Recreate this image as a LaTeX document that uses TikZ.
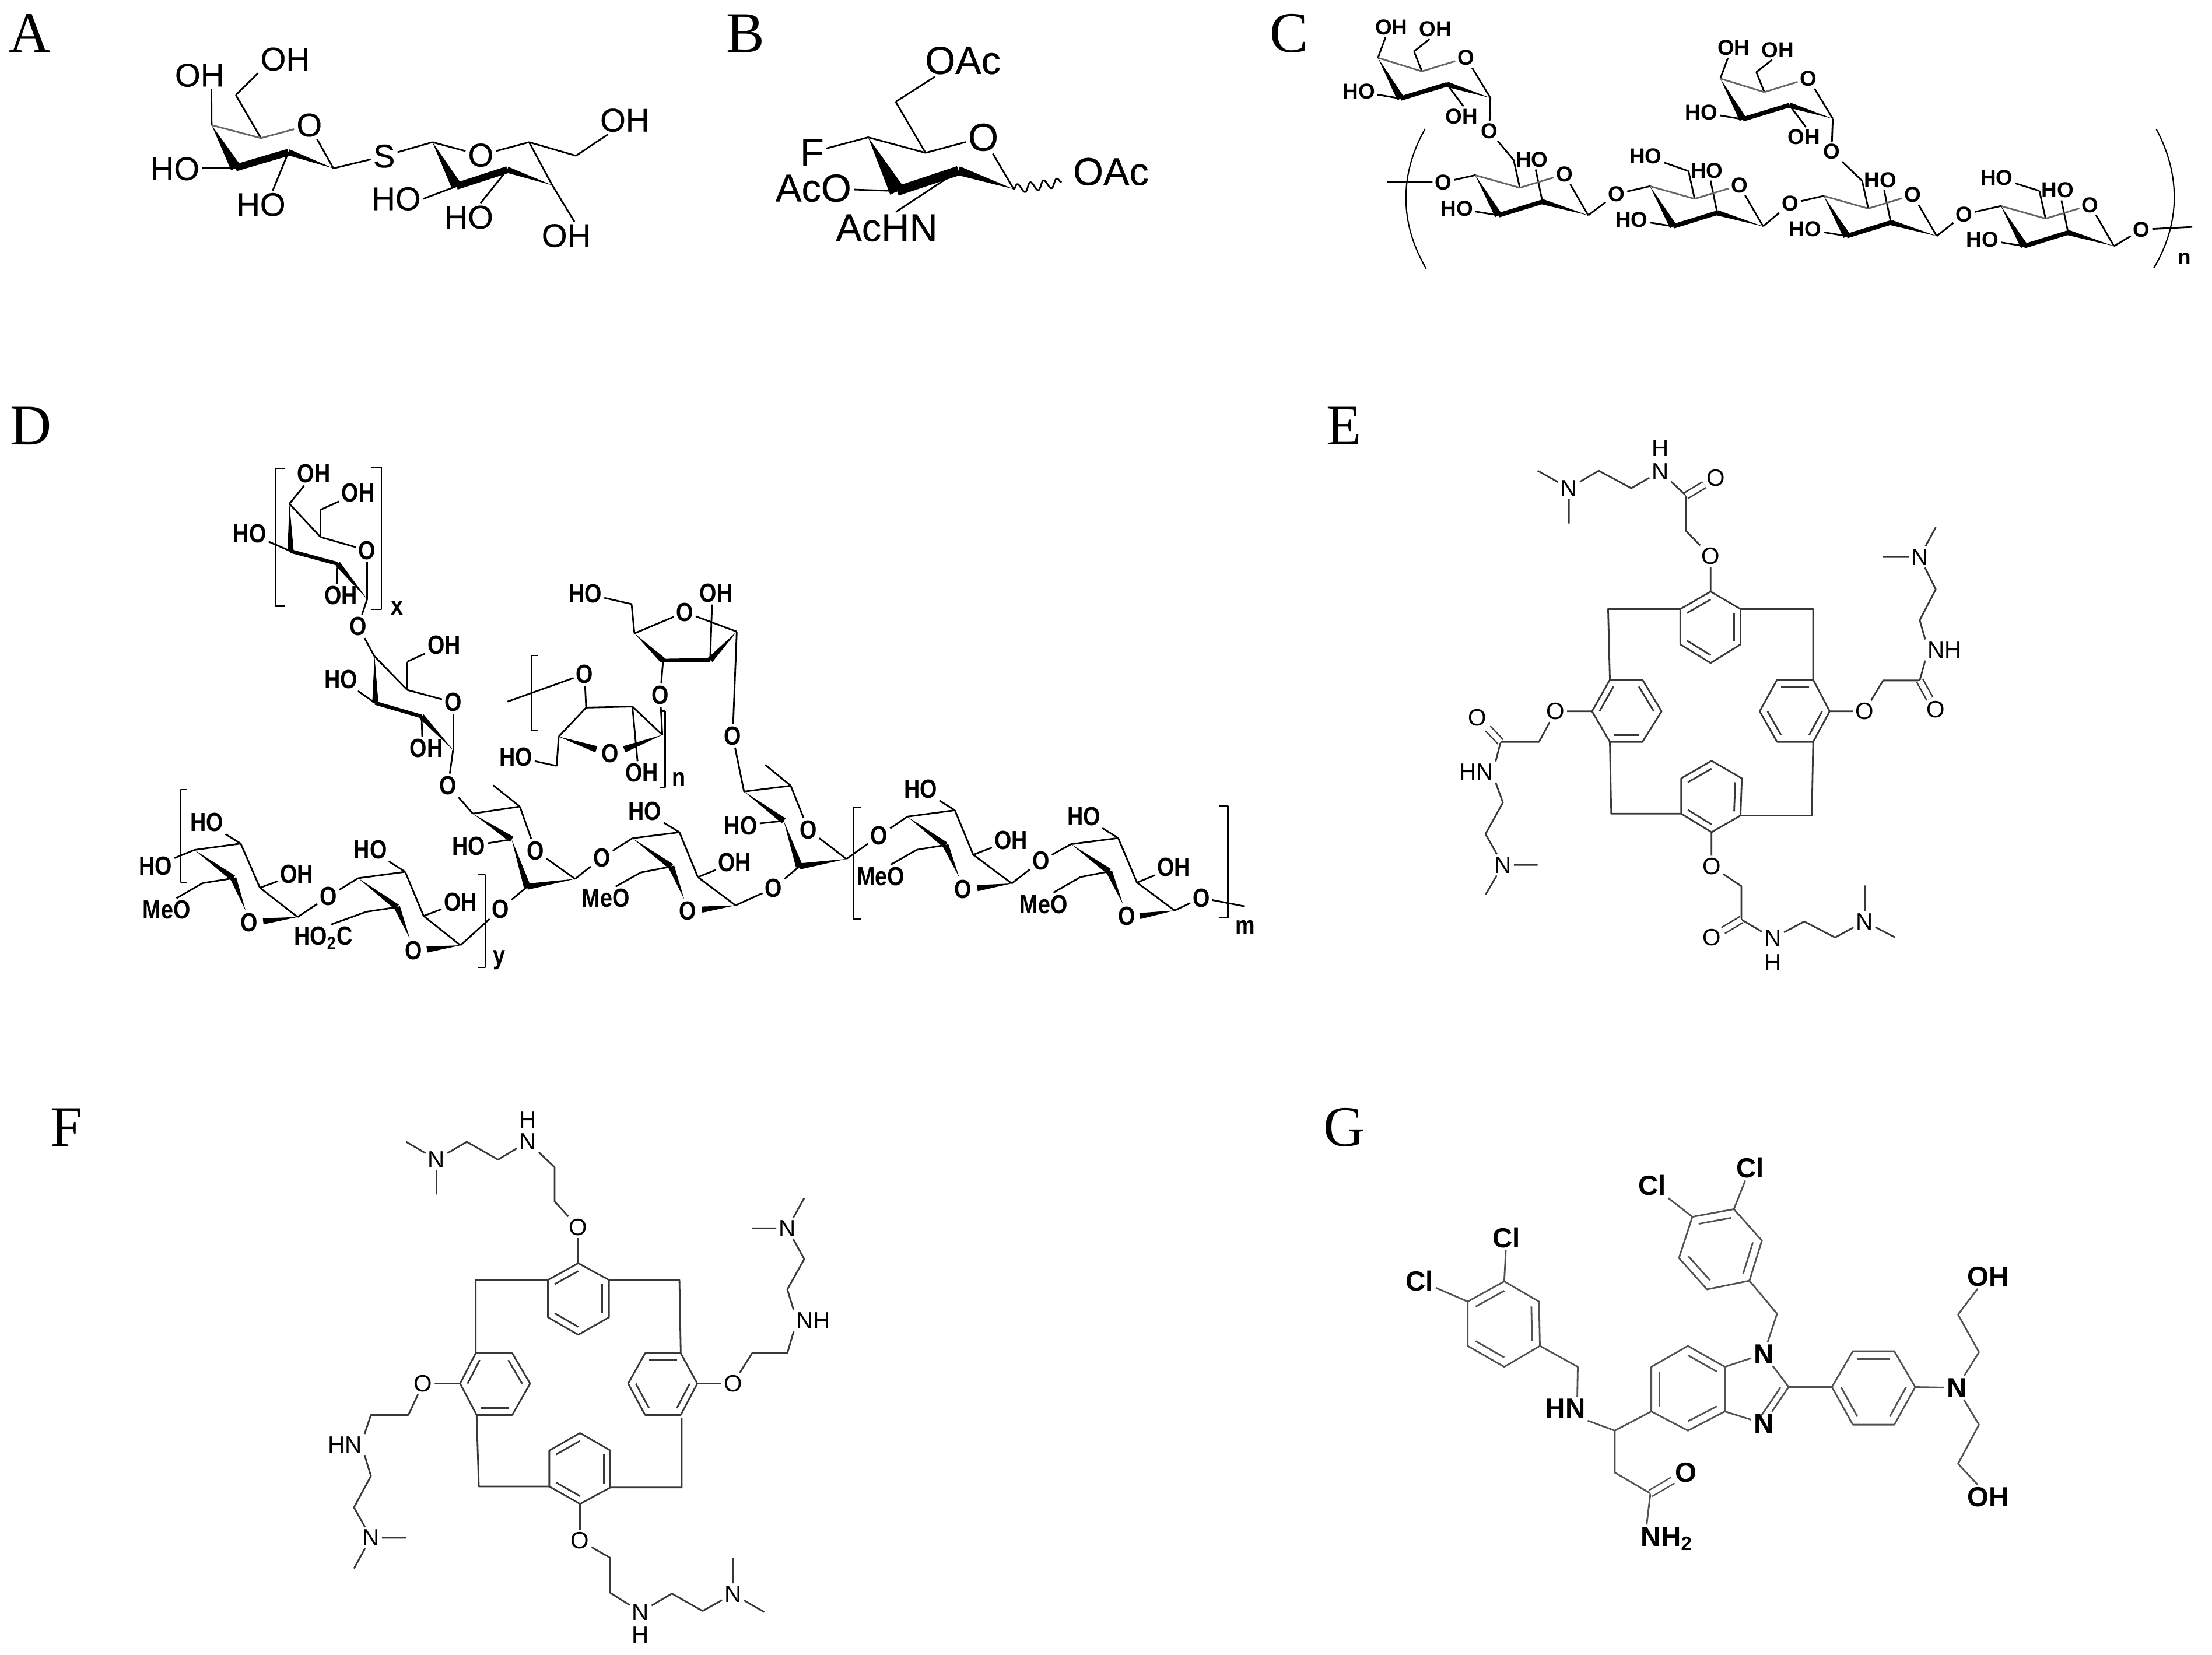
\documentclass[tikz,border=0pt]{standalone}
\usepackage{fontspec}
\setmainfont{Liberation Sans}
\newfontfamily\panelfont{Liberation Serif}
\newfontfamily\chemA[FakeBold=.3]{Liberation Sans}
\newfontfamily\chemD[FakeStretch=.84]{Liberation Sans}
\usetikzlibrary{calc,decorations.pathmorphing}
\colorlet{bondcol}{black}
\tikzset{
  bond/.style={line width=.8pt,draw=bondcol,line join=round},
  backbond/.style={bond,draw=black!60},
  dblbond/.style={bond,double,double distance=2.6pt,line width=.7pt},
  atom/.style={inner sep=1pt},
  panel/.style={font=\panelfont\fontsize{28}{28}\selectfont,inner sep=0pt},
  fnt/.style 2 args={every node/.append style={font=#1\fontsize{#2}{#2}\selectfont}}
}
\newcommand\carbons[1]{\foreach \n/\x/\y in {#1} \coordinate (\n) at (\x,\y);}
\newcommand\atoms[1]{\foreach \n/\x/\y/\t in {#1} \node[atom] (\n) at (\x,\y) {\t};}
\newcommand\bonds[2][]{\foreach \p/\q in {#2} \draw[bond,#1] (\p) -- (\q);}
\newcommand\wedges[1]{\foreach \p/\q/\w in {#1} \fill (\p) -- ($(\q)!\w!90:(\p)$) -- ($(\q)!\w!-90:(\p)$) -- cycle;}
\newcommand\hexring[1]{\coordinate (#1c) at ($(#11)!.5!(#14)$);\draw[bond] (#11)--(#12)--(#13)--(#14)--(#15)--(#16)--cycle;}
\newcommand\innerbonds[2]{\foreach \i/\j in {#2} \draw[bond] ($(#1c)!.78!(#1\i)$) -- ($(#1c)!.78!(#1\j)$);}
\begin{document}
\begin{tikzpicture}
\useasboundingbox (0,0) rectangle (37.93,-28.38);
\node[panel] (pA) at (.51,-.57) {A};\node[panel] (pB) at (12.78,-.57) {B};\node[panel] (pC) at (22.1,-.57) {C};
\node[panel] (pD) at (.53,-7.3) {D};\node[panel] (pE) at (23.05,-7.3) {E};\node[panel] (pF) at (1.14,-19.33) {F};\node[panel] (pG) at (23.05,-19.33) {G};
% A
\begin{scope}[x=.00829cm,y=-.00333cm,fnt={\chemA}{16}]
\carbons{Aa/438/645,Ab/488/490,Ac/540/712,Ad/690/868,Ae/597/785,Af/488/865,Ag/895/733,Ah/1095/733,Ai/1192/803,Aj/1143/955,Ak/1050/875,Al/945/960}
\atoms{Ao1/413/388/OH,Ao2/590/305/OH,Ao3/640/645/O,Ao4/362/870/HO,Ao5/540/1055/HO,As/795/805/S,Ao6/995/800/O,Ao7/1293/620/OH,Ao8/820/1025/HO,Ao9/970/1120/HO,Ao0/1172/1215/OH}
\bonds{Aa/Ao1.-50,Ab/Ao2.south west,Ab/Ac,Ao3/Ad,Ad/As,As/Ag,Ag/Ao6,Ao6/Ah,Ah/Ai,Ai/Ao7.-140,Ah/Aj,Aj/Ao0.60,Ae/Ao5.50,Af/Ao4,Al/Ao8.east,Ak/Ao9.50}
\bonds[backbond]{Aa/Ac,Ac/Ao3}
\wedges{Aa/Af/2.6pt,Ad/Ae/1.5pt,Aj/Ak/1.5pt,Ag/Al/2.6pt}
\bonds[line width=3.4pt]{Af/Ae,Al/Ak}
\end{scope}
% B
\begin{scope}[shift={(12cm,0cm)},x=.00512cm,y=-.00333cm,fnt={\chemA}{19}]
\carbons{Ba/563/708,Bb/755/788,Bc/1050/975,Bd/865/880,Be/660/985,Bf/655/525,Bw/1210/940}
\atoms{Bo1/948/708/O,Bo2/880/312/OAc,Bo3/1375/885/OAc,Bk/375/785/F,Bo4/380/970/AcO,Bn/625/1175/AcHN}
\bonds{Ba/Bk,Ba/Bb,Bb/Bo1,Bo1/Bc,Bb/Bf,Bf/Bo2.-150,Be/Bo4,Bd/Bn.60}
\wedges{Ba/Be/3.8pt,Bc/Bd/2.2pt}
\bonds[line width=4.6pt]{Be/Bd}
\draw[bond,decorate,decoration={snake,amplitude=2.2pt,segment length=6.5pt}] (Bc) -- (Bw);
\end{scope}
% C
\begin{scope}[shift={(21.5cm,0cm)},x=.01048cm,y=-.00333cm,fnt={\bfseries}{10.5}]
\foreach \u/\dx/\dy in {1/0/0,2/560/107}{
\begin{scope}[shift={(\dx,\dy)}]
\carbons{Cg\u a/203/298,Cg\u b/262/265,Cg\u c/275/368,Cg\u d/387/505,Cg\u e/316/435,Cg\u f/240/508}
\atoms{Cg\u o/347/298/O,Cg\u p/225/140/OH,Cg\u q/297/150/OH,Cg\u r/172/472/HO,Cg\u s/340/600/OH,Cg\u h/385/675/O}
\end{scope}
\bonds{Cg\u a/Cg\u p.-120,Cg\u b/Cg\u q.-120,Cg\u c/Cg\u b,Cg\u o/Cg\u d,Cg\u f/Cg\u r,Cg\u e/Cg\u s.80,Cg\u d/Cg\u h}
\bonds[backbond]{Cg\u a/Cg\u c,Cg\u c/Cg\u o}
\wedges{Cg\u a/Cg\u f/1.8pt,Cg\u d/Cg\u e/1.3pt}
\bonds[line width=2.2pt]{Cg\u f/Cg\u e}
}
\atoms{Ck0/310/940/O,Ck1/593/1000/O,Ck2/877/1050/O,Ck3/1162/1105/O,Ck4/1452/1183/O,Cr2/641/805/HO,Cr4/1215/915/HO,Cn/1522/1335/n}
\carbons{Cl/218/937,Cm/1535/1170}
\foreach \u/\dx/\dy in {1/0/0,2/286/57,3/570/107,4/860/159}{
\begin{scope}[shift={(\dx,\dy)}]
\carbons{Cu\u a/362/903,Cu\u b/435/968,Cu\u c/547/1110,Cu\u d/472/1040,Cu\u e/400/1110,Cu\u f/425/825}
\atoms{Cu\u o/508/898/O,Cu\u p/455/822/HO,Cu\u q/332/1075/HO}
\end{scope}
\bonds{Cu\u b/Cu\u f,Cu\u o/Cu\u c,Cu\u d/Cu\u p.-70,Cu\u e/Cu\u q}
\bonds[backbond]{Cu\u a/Cu\u b,Cu\u b/Cu\u o}
\wedges{Cu\u a/Cu\u e/1.8pt,Cu\u c/Cu\u d/1.3pt}
\bonds[line width=2.2pt]{Cu\u e/Cu\u d}
}
\bonds{Cl/Ck0,Ck0/Cu1a,Cu1c/Ck1,Ck1/Cu2a,Cu2c/Ck2,Ck2/Cu3a,Cu3c/Ck3,Ck3/Cu4a,Cu4c/Ck4,Ck4/Cm,Cg1h/Cu1f,Cg2h/Cu3f,Cu2f/Cr2,Cu4f/Cr4}
\draw[line width=.6pt] (280,665) .. controls (238,900) and (238,1150) .. (282,1385);
\draw[line width=.6pt] (1476,665) .. controls (1516,900) and (1516,1150) .. (1472,1382);
\end{scope}
% D, left part
\begin{scope}[shift={(2cm,-7.5cm)},x=.007015cm,y=-.00606cm,fnt={\chemD\bfseries}{12.8}]
\carbons{Dpa/422/188,Dpb/498/282,Dpc/612/458,Dpd/540/358,Dpe/425/322,Dpf/498/205,Dqa/630/620,Dqb/710/715,Dqc/822/885,Dqd/745/790,Dqe/632/752,Dqf/710/635}
\atoms{Dp1/482/103/OH,Dp2/590/157/OH,Dp3/325/272/HO,Dp4/612/320/O,Dp5/548/448/OH,Dp6/590/535/O,Dq2/800/587/OH,Dq3/548/685/HO,Dq4/822/750/O,Dq5/757/880/OH,Dq6/810/985/O,Dx/685/483/x}
\bonds{Dpa/Dp1,Dpa/Dpb,Dpb/Dpf,Dpf/Dp2,Dpb/Dp4,Dp4/Dpc,Dpe/Dp3,Dpd/Dp5.110,Dpc/Dp6,Dp6/Dqa,Dqa/Dqb,Dqb/Dqf,Dqf/Dq2,Dqb/Dq4,Dq4/Dqc,Dqe/Dq3,Dqd/Dq5.110,Dqc/Dq6}
\wedges{Dpa/Dpe/1.5pt,Dpc/Dpd/1.4pt,Dqa/Dqe/1.5pt,Dqc/Dqd/1.4pt}
\bonds[line width=1.8pt]{Dpe/Dpd,Dqe/Dqd}
\draw[bond,line width=.6pt] (412,88)--(387,88)--(387,478)--(412,478) (622,85)--(647,85)--(647,487)--(622,487);
% sugars of the lower chain
\carbons{Dwa/190/1168,Dwb/303/1150,Dwc/350/1275,Dwd/442/1358,Dwe/285/1248,Dwf/210/1262,Dwz/358/1370,Dxa/590/1248,Dxb/705/1230,Dxc/750/1355,Dxd/840/1438,Dxe/685/1330,Dxf/610/1343,Dxz/758/1450,Dra/870/1065,Drb/985/1045,Drm/920/985,Drc/1120/1250,Drd/1003/1272,Dre/965/1138,Dsa/1260/1135,Dsb/1375/1118,Dsc/1420/1245,Dsd/1512/1325,Dse/1355/1215,Dsf/1280/1232,Dsz/1430/1337}
\atoms{Dw1/220/1090/HO,Dw2/95/1213/HO,Dw3/440/1237/OH,Dw4/323/1373/O,Dw5/122/1338/MeO,Dw6/517/1300/O,Dx1/620/1167/HO,Dx2/840/1315/OH,Dx3/725/1452/O,Dx4/505/1418/{HO\textsubscript{2}C},Dx5/938/1335/O,Dr1/860/1158/HO,Dr2/1023/1170/O,Dr3/1185/1190/O,Ds1/1290/1058/HO,Ds2/1510/1203/OH,Ds3/1395/1340/O,Ds4/1195/1305/MeO,Dy/935/1480/y}
\bonds{Dwa/Dwb,Dwb/Dw1,Dwa/Dw2,Dwb/Dwc,Dwc/Dw3,Dwc/Dwd,Dwd/Dw6,Dwe/Dwf,Dwf/Dw5.50,Dw6/Dxa,Dxa/Dxb,Dxb/Dx1,Dxb/Dxc,Dxc/Dx2,Dxc/Dxd,Dxd/Dx5,Dxe/Dxf,Dxf/Dx4.60,Dx5/Drd,Dq6/Dra,Dra/Drb,Drb/Drm,Drb/Dr2,Dr2/Drc,Dre/Dr1,Drc/Dr3,Dr3/Dsa,Dsa/Dsb,Dsb/Ds1,Dsb/Dsc,Dsc/Ds2,Dsc/Dsd,Dse/Dsf,Dsf/Ds4.50}
\wedges{Dwa/Dwe/1.5pt,Dw4/Dwe/1.5pt,Dwd/Dwz/1.5pt,Dxa/Dxe/1.5pt,Dx3/Dxe/1.5pt,Dxd/Dxz/1.5pt,Dra/Dre/1.5pt,Dre/Drd/1.7pt,Drc/Drd/1.5pt,Dsa/Dse/1.5pt,Ds3/Dse/1.5pt,Dsd/Dsz/1.5pt}
\draw[bond,line width=.6pt] (172,997)--(157,997)--(157,1260)--(172,1260) (882,1238)--(900,1238)--(900,1500)--(882,1500);
% the two furanoses
\carbons{Dfa/1265/555,Dfb/1515/550,Dfc/1450/630,Dfd/1335/632,Dfe/1258/472,Dga/1147/765,Dgb/1260/762,Dgc/1333/842,Dgd/1080/847,Dge/1075/930,Dgz/1240/883,Dgy/1172/883,Dgl/955/748}
\atoms{Df1/1145/442/HO,Df2/1465/440/OH,Df3/1388/495/O,Df4/1328/730/O,Df5/1505/845/O,Dg1/1143/670/O,Dg2/975/905/HO,Dg3/1205/895/O,Dg4/1283/950/OH,Dn/1373/968/n}
\bonds{Df1/Dfe,Dfe/Dfa,Dfa/Df3,Df3/Dfb,Dfc/Df2.-110,Dfd/Df4,Dfb/Df5,Dg1/Dgl,Dg1/Dga,Dga/Dgb,Dgb/Dgc,Dga/Dgd,Dgd/Dge,Dge/Dg2,Dgb/Dg4.110,Dgc/Df4}
\wedges{Dfa/Dfd/1.5pt,Dfb/Dfc/1.5pt,Dgc/Dgz/1.6pt,Dgd/Dgy/1.6pt}
\bonds[line width=1.8pt]{Dfd/Dfc}
\draw[bond,line width=.6pt] (1030,617)--(1013,617)--(1013,828)--(1030,828) (1328,775)--(1340,775)--(1340,990)--(1328,990);
\end{scope}
% D, right part
\begin{scope}[shift={(12cm,-9.5cm)},x=.007015cm,y=-.00478cm,fnt={\chemD\bfseries}{12.8}]
\carbons{Dsy/88/1260,Dta/108/853,Dtb/222/832,Dtm/160/757,Dtc/358/1095,Dtd/243/1122,Dte/205/958,Dua/507/943,Dub/623/920,Duc/668/1080,Dud/762/1183,Due/600/1045,Duf/530/1062,Duz/678/1200,Dva/907/1042,Dvb/1022/1020,Dvc/1068/1180,Dvd/1160/1280,Dve/1000/1140,Dvf/930/1160,Dvz/1075/1300,Dvl/1330/1265}
\atoms{Dt1/100/975/HO,Dt2/265/990/O,Dt3/180/1200/O,Du1/438/1012/O,Du2/540/843/HO,Du3/760/1028/OH,Du4/643/1203/O,Du5/442/1158/MeO,Du6/833/1102/O,Dv1/938/942/HO,Dv2/1158/1125/OH,Dv3/1043/1300/O,Dv4/840/1258/MeO,Dv5/1225/1235/O,Dm/1333/1340/m}
\bonds{Dsd/Dt3,Dt3/Dtd,Df5/Dta,Dta/Dtb,Dtb/Dtm,Dtb/Dt2,Dt2/Dtc,Dte/Dt1,Dtc/Du1,Du1/Dua,Dua/Dub,Dub/Du2,Dub/Duc,Duc/Du3,Duc/Dud,Due/Duf,Duf/Du5.50,Dud/Du6,Du6/Dva,Dva/Dvb,Dvb/Dv1,Dvb/Dvc,Dvc/Dv2,Dvc/Dvd,Dve/Dvf,Dvf/Dv4.50,Dvd/Dv5,Dv5/Dvl}
\wedges{Dta/Dte/1.5pt,Dte/Dtd/1.7pt,Dtc/Dtd/1.5pt,Dua/Due/1.5pt,Du4/Due/1.5pt,Dud/Duz/1.5pt,Dva/Dve/1.5pt,Dv3/Dve/1.5pt,Dvd/Dvz/1.5pt}
\draw[bond,line width=.6pt] (395,910)--(375,910)--(375,1310)--(395,1310) (1270,905)--(1290,905)--(1290,1307)--(1270,1307);
\end{scope}
% E
\begin{scope}[shift={(23.5cm,-7cm)},x=.00765cm,y=-.00638cm,fnt={}{11.5}]
\colorlet{bondcol}{black!78}
\carbons{Ea1/763/493,Ea2/830/540,Ea3/830/635,Ea4/763/685,Ea5/695/635,Ea6/695/540,Eb1/537/730,Eb2/610/730,Eb3/653/815,Eb4/610/897,Eb5/537/897,Eb6/497/815,Ec1/912/730,Ec2/993/730,Ec3/1030/815,Ec4/993/897,Ec5/912/897,Ec6/873/815,Ed1/765/948,Ed2/833/995,Ed3/830/1095,Ed4/765/1140,Ed5/697/1090,Ed6/697/995}
\carbons{Ep1/533/540,Ep2/993/540,Ep3/540/1090,Ep4/990/1095,Et1/708/330,Et2/708/235,Et3/585/215,Et4/512/168,Et5/375/168,Et6/445/310,El1/378/897,El2/292/897,El3/297/1060,El4/258/1145,El5/375/1228,El6/258/1308,Er1/1150/732,Er2/1232/732,Er3/1232/570,Er4/1268/487,Er5/1150/400,Er6/1268/320,Es1/832/1285,Es2/832/1375,Es3/973/1380,Es4/1042/1423,Es5/1110/1283,Es6/1177/1423}
\atoms{Eo1/763/398/O,Eo2/775/187/O,En1/650/170/N,Eh1/650/108/H,En2/445/215/N,Eo3/415/815/O,Eo4/240/832/O,En3/237/978/HN,En4/297/1228/N,Eo5/1108/815/O,Eo6/1268/810/O,En5/1288/650/NH,En6/1232/400/N,Eo7/765/1232/O,Eo8/765/1423/O,En7/903/1425/N,Eh7/903/1490/H,En8/1108/1380/N}
\hexring{Ea}\hexring{Eb}\hexring{Ec}\hexring{Ed}
\innerbonds{Ea}{6/1,2/3,4/5}\innerbonds{Eb}{6/1,2/3,4/5}\innerbonds{Ec}{1/2,3/4,5/6}\innerbonds{Ed}{6/1,2/3,4/5}
\draw[bond] (Ea6)--(Ep1)--(Eb1) (Ea2)--(Ep2)--(Ec2) (Eb5)--(Ep3)--(Ed5) (Ec4)--(Ep4)--(Ed3);
\draw[bond] (Ea1)--(Eo1)--(Et1)--(Et2)--(En1)--(Et3)--(Et4)--(En2)--(Et5) (En2)--(Et6);
\draw[bond] (Eb6)--(Eo3)--(El1)--(El2)--(En3.north east) (En3.south east)--(El3)--(El4)--(En4)--(El5) (En4)--(El6);
\draw[bond] (Ec3)--(Eo5)--(Er1)--(Er2)--(En5.south west) (En5.north west)--(Er3)--(Er4)--(En6)--(Er5) (En6)--(Er6);
\draw[bond] (Ed4)--(Eo7)--(Es1)--(Es2)--(En7)--(Es3)--(Es4)--(En8)--(Es5) (En8)--(Es6);
\draw[dblbond] (Et2)--(Eo2);\draw[dblbond] (El2)--(Eo4);\draw[dblbond] (Er2)--(Eo6);\draw[dblbond] (Es2)--(Eo8);
\end{scope}
% F
\begin{scope}[shift={(5cm,-19cm)},x=.00765cm,y=-.00598cm,fnt={}{11.5}]
\colorlet{bondcol}{black!78}
\carbons{Fa1/643/445,Fa2/712/493,Fa3/712/600,Fa4/643/650,Fa5/575/600,Fa6/575/493,Fb1/413/703,Fb2/495/703,Fb3/535/790,Fb4/495/880,Fb5/415/880,Fb6/378/790,Fc1/793/703,Fc2/873/703,Fc3/910/790,Fc4/873/880,Fc5/793/880,Fc6/755/790,Fd1/647/932,Fd2/715/982,Fd3/715/1088,Fd4/647/1135,Fd5/578/1085,Fd6/578/982}
\carbons{Fp1/413/493,Fp2/870/493,Fp3/420/1085,Fp4/875/1088,Fp5/875/888,Ft1/590/268,Ft2/590/170,Ft3/463/148,Ft4/393/97,Ft5/257/97,Ft6/325/248,Fl1/262/880,Fl2/178/880,Fl3/178/1055,Fl4/140/1145,Fl5/257/1232,Fl6/140/1320,Fr1/1033/703,Fr2/1112/703,Fr3/1112/520,Fr4/1150/433,Fr5/1033/345,Fr6/1150/258,Fs1/715/1290,Fs2/715/1390,Fs3/853/1392,Fs4/922/1442,Fs5/990/1290,Fs6/1060/1445}
\atoms{Fo1/643/342/O,Fn1/530/97/N,Fh1/530/35/H,Fn2/325/148/N,Fo2/295/790/O,Fn3/120/965/HN,Fn4/178/1232/N,Fo3/990/790/O,Fn5/1170/610/NH,Fn6/1112/345/N,Fo4/647/1240/O,Fn7/783/1445/N,Fh7/783/1510/H,Fn8/990/1393/N}
\hexring{Fa}\hexring{Fb}\hexring{Fc}\hexring{Fd}
\innerbonds{Fa}{6/1,2/3,4/5}\innerbonds{Fb}{6/1,2/3,4/5}\innerbonds{Fc}{1/2,3/4,5/6}\innerbonds{Fd}{6/1,2/3,4/5}
\draw[bond] (Fa6)--(Fp1)--(Fb1) (Fa2)--(Fp2)--(Fc2) (Fb5)--(Fp3)--(Fd5) (Fp5)--(Fp4)--(Fd3);
\draw[bond] (Fa1)--(Fo1)--(Ft1)--(Ft2)--(Fn1)--(Ft3)--(Ft4)--(Fn2)--(Ft5) (Fn2)--(Ft6);
\draw[bond] (Fb6)--(Fo2)--(Fl1)--(Fl2)--(Fn3.north east) (Fn3.south east)--(Fl3)--(Fl4)--(Fn4)--(Fl5) (Fn4)--(Fl6);
\draw[bond] (Fc3)--(Fo3)--(Fr1)--(Fr2)--(Fn5.south west) (Fn5.north west)--(Fr3)--(Fr4)--(Fn6)--(Fr5) (Fn6)--(Fr6);
\draw[bond] (Fd4)--(Fo4)--(Fs1)--(Fs2)--(Fn7)--(Fs3)--(Fs4)--(Fn8)--(Fs5) (Fn8)--(Fs6);
\end{scope}
% G
\begin{scope}[shift={(23.5cm,-19cm)},x=.00765cm,y=-.00598cm,fnt={\bfseries}{13.5}]
\colorlet{bondcol}{black!68}
\carbons{Ga1/722/312,Ga2/815/290,Ga3/878/380,Ga4/850/495,Ga5/755/520,Ga6/692/430,Gb1/712/682,Gb2/795/742,Gb3/795/870,Gb4/712/925,Gb5/630/870,Gb6/630/742,Gc1/1082/697,Gc2/1175/697,Gc3/1222/800,Gc4/1175/908,Gc5/1082/908,Gc6/1035/800,Gd1/300/497,Gd2/378/555,Gd3/380/682,Gd4/300/742,Gd5/218/682,Gd6/218/555}
\carbons{Gp/912/590,Gq/938/800,Gr1/1365/700,Gr2/1318/592,Gr3/1365/908,Gr4/1318/1020,Gs1/548/925,Gs2/548/1045,Gs3/628/1105,Gs4/465/742,Gy/855/805}
\atoms{Gl1/632/222/Cl,Gl2/852/172/Cl,Gn1/882/705/N,Gn2/882/905/N,Gn3/1315/802/N,Go1/1385/483/OH,Go2/1385/1115/OH,Gn4/437/862/HN,Go3/708/1045/O,Gn5/665/1235/{NH\textsubscript{2}},Gl3/305/372/Cl,Gl4/110/495/Cl}
\hexring{Ga}\hexring{Gb}\hexring{Gc}\hexring{Gd}
\innerbonds{Ga}{1/2,3/4,5/6}\innerbonds{Gb}{1/2,3/4,5/6}\innerbonds{Gc}{1/2,3/4,5/6}\innerbonds{Gd}{2/3,4/5,6/1}
\draw[bond] (Ga1)--(Gl1) (Ga2)--(Gl2) (Ga4)--(Gp)--(Gn1) (Gb2)--(Gn1)--(Gq)--(Gn2)--(Gb3) (Gq)--(Gc6) (Gc3)--(Gn3)--(Gr1)--(Gr2)--(Go1.-130) (Gn3)--(Gr3)--(Gr4)--(Go2.130);
\draw[bond] ($(Gy)!.78!(Gq)$)--($(Gy)!.78!(Gn2)$);
\draw[bond] (Gb5)--(Gs1)--(Gn4.south east) (Gs1)--(Gs2)--(Gs3)--(Gn5.145) (Gn4.45)--(Gs4)--(Gd3) (Gd1)--(Gl3) (Gd6)--(Gl4);
\draw[dblbond] (Gs3)--(Go3);
\end{scope}
\end{tikzpicture}
\end{document}
